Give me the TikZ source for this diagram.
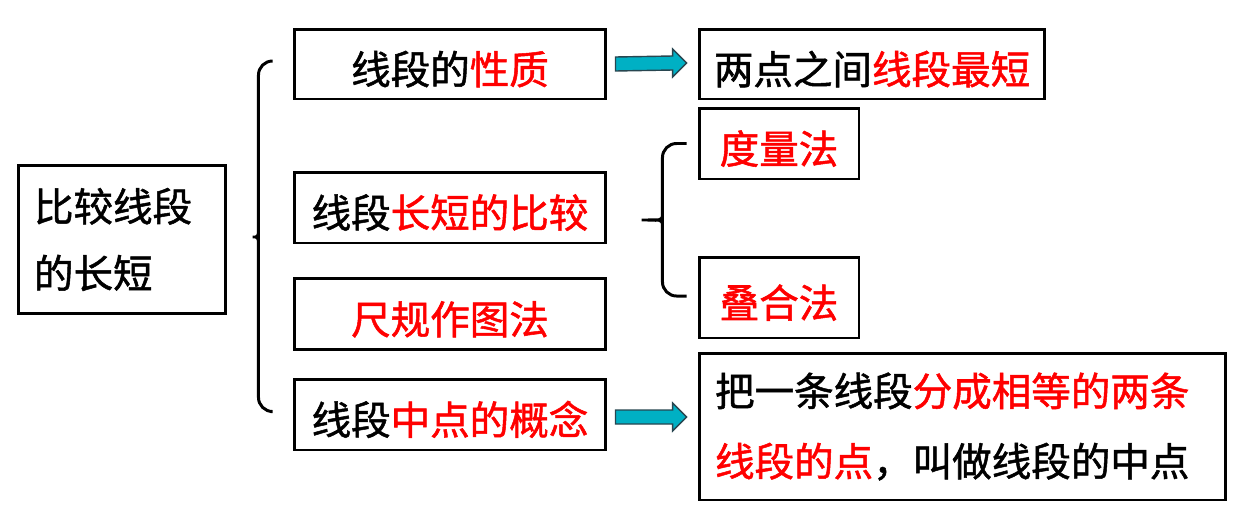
\documentclass[tikz,border=0pt]{standalone}
\usepackage{fontspec}
\setmainfont{Noto Sans CJK SC}
\newfontfamily\medcjk{Noto Sans CJK SC}[FakeBold=1.3]
\usetikzlibrary{calc}
\definecolor{keyred}{RGB}{255,0,0}
\definecolor{arrowfill}{RGB}{0,176,196}
\definecolor{arrowline}{RGB}{40,70,80}
\tikzset{
  box/.style={draw, line width=1.7pt, inner sep=0pt, font=\fontsize{22.5pt}{37pt}\selectfont\medcjk},
  oneline/.style={text height=26pt, text depth=3pt},
  brace/.style={draw, line width=1.7pt, rounded corners=8pt},
  fatarrow/.style={draw=arrowline, fill=arrowfill, line width=0.8pt}
}
\newcommand{\hl}[1]{\textcolor{keyred}{#1}}
\newcommand{\blockarrow}[2]{%
  \path[fatarrow] ($(#1)+(0,-7)$) -- ($(#2)+(-14,-7)$) -- ($(#2)+(-14,-14)$) -- (#2)
    -- ($(#2)+(-14,14)$) -- ($(#2)+(-14,7)$) -- ($(#1)+(0,7)$) -- cycle;}
\begin{document}
\begin{tikzpicture}[x=0.02cm, y=-0.02cm]
      \useasboundingbox (0,0) rectangle (1241,518);
      \draw
        (122,239.5) node[box, minimum width=4.16cm, minimum height=2.98cm, text width=3.52cm, align=left] (main){比较线段\\[1pt]的长短}
        (450,64) node[box, oneline, minimum width=6.24cm, minimum height=1.4cm] (b1){线段的\hl{性质}}
        (450,207.5) node[box, oneline, minimum width=6.24cm, minimum height=1.42cm] (b2){线段\hl{长短的比较}}
        (450,314) node[box, oneline, minimum width=6.24cm, minimum height=1.42cm] (b3){\hl{尺规作图法}}
        (450,414.5) node[box, oneline, minimum width=6.24cm, minimum height=1.42cm] (b4){线段\hl{中点的概念}}
        (872,64) node[box, oneline, minimum width=6.92cm, minimum height=1.4cm] (r1){两点之间\hl{线段最短}}
        (779,143.5) node[box, oneline, minimum width=3.2cm, minimum height=1.42cm] (m1){\hl{度量法}}
        (779,297.5) node[box, oneline, minimum width=3.2cm, minimum height=1.62cm] (m2){\hl{叠合法}}
        (962.5,426.5) node[box, minimum width=10.54cm, minimum height=2.94cm, text width=9.9cm, align=left] (big){把一条线段\hl{分成相等的两条}\\[3pt]\hl{线段的点}，叫做线段的中点};
      \coordinate (ltip) at ($(main.east)+(17,-2.5)$);
      \coordinate (rtip) at ($(b2.east)+(26,12.5)$);
      \begin{scope}[brace]
        \draw ($(b1.west)+(-22,-3)$) -| ($(ltip)+(14,-9)$) .. controls ($(ltip)+(14,-2)$) and ($(ltip)+(7,0)$) .. (ltip)
          .. controls ($(ltip)+(7,0)$) and ($(ltip)+(14,2)$) .. ($(ltip)+(14,9)$) |- ($(b4.west)+(-22,-3)$);
        \draw ($(m1.west)+(-11,0)$) -| ($(rtip)+(29,-9)$) .. controls ($(rtip)+(29,-2)$) and ($(rtip)+(22,0)$) .. (rtip)
          .. controls ($(rtip)+(22,0)$) and ($(rtip)+(29,2)$) .. ($(rtip)+(29,9)$) |- ($(m2.west)+(-11,-1.5)$);
      \end{scope}
      \coordinate (t1) at ($(b1.east)+(8,0)$);
      \coordinate (h1) at ($(r1.west)+(-11,-1)$);
      \coordinate (t2) at ($(b4.east)+(8,2.5)$);
      \coordinate (h2) at ($(b4.east -| big.west)+(-11,2.5)$);
      \blockarrow{t1}{h1}
      \blockarrow{t2}{h2}
    \end{tikzpicture}
\end{document}
